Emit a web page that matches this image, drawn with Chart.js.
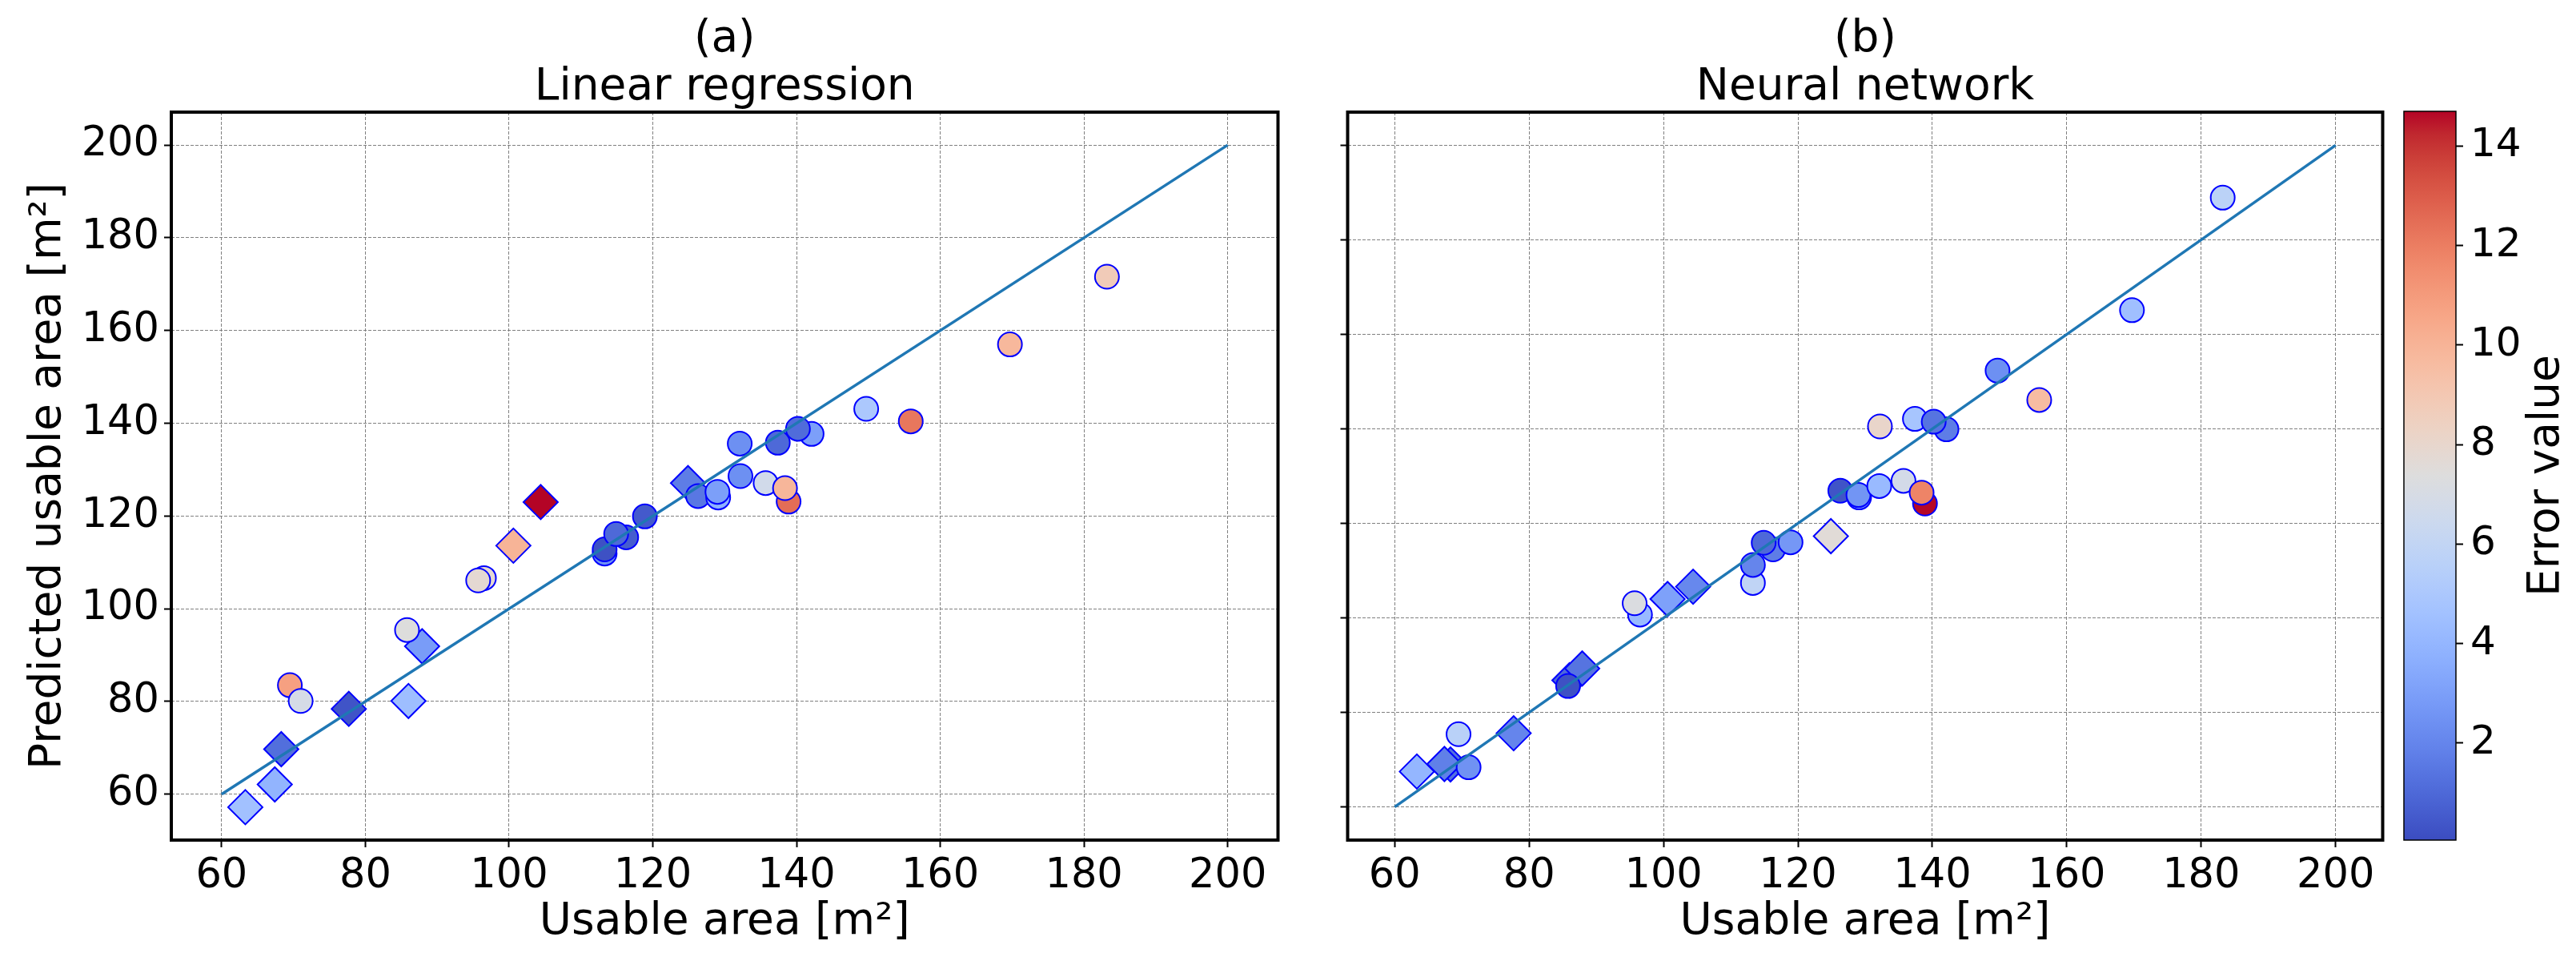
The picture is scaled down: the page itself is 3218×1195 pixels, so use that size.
<!DOCTYPE html>
<html>
<head>
<meta charset="utf-8">
<script src="https://cdn.jsdelivr.net/npm/chart.js@4.4.1/dist/chart.umd.min.js"></script>
<style>
html, body { margin: 0; padding: 0; background: #fff; }
body { width: 3218px; height: 1195px; position: relative; overflow: hidden; }
canvas { position: absolute; top: 0; }
</style>
</head>
<body>
<canvas id="chartLR" width="1620" height="1195" style="left:0px"></canvas>
<canvas id="chartNN" width="1340" height="1195" style="left:1660px"></canvas>
<canvas id="chartBar" width="223" height="1195" style="left:2995px"></canvas>
<script>
// real usable area of every flat [m2], diamonds first then circles
var usableArea = [63.3, 68.3, 67.4, 77.7, 86.0, 87.9, 100.6, 104.4, 124.9,
  69.5, 71.0, 85.8, 96.5, 95.7, 113.3, 113.3, 116.3, 114.9, 118.9, 126.3, 129.1, 129.0,
  132.1, 132.2, 135.7, 138.9, 138.4, 137.4, 142.1, 140.2, 149.7, 155.9, 169.7, 183.2];
var shape = ['D','D','D','D','D','D','D','D','D',
  'o','o','o','o','o','o','o','o','o','o','o','o','o',
  'o','o','o','o','o','o','o','o','o','o','o','o'];

// (a) linear regression
var lrPredicted = [57.2, 69.7, 62.1, 78.4, 80.1, 91.9, 113.6, 123.0, 127.1,
  83.5, 80.1, 95.4, 106.6, 106.1, 111.9, 112.8, 115.4, 116.1, 119.9, 124.3, 124.0, 125.2,
  135.6, 128.6, 127.1, 123.1, 126.0, 135.8, 137.7, 138.8, 143.1, 140.4, 157.0, 171.6];
var lrError = [4.6, 1.2, 3.9, 0.3, 4.4, 2.9, 10.0, 14.7, 1.7,
  10.8, 6.9, 7.4, 7.8, 7.8, 2.5, 0.2, 0.6, 1.0, 0.5, 1.5, 3.8, 3.0,
  2.4, 2.4, 6.7, 12.5, 9.9, 1.0, 3.0, 1.1, 5.0, 12.2, 9.8, 8.8];

// (b) neural network
var nnPredicted = [67.5, 69.0, 69.1, 75.6, 86.8, 89.3, 104.0, 106.6, 117.3,
  75.4, 68.4, 85.6, 100.7, 103.1, 107.4, 111.2, 114.5, 115.9, 116.0, 126.9, 125.5, 126.0,
  127.9, 140.5, 129.0, 124.2, 126.5, 142.1, 139.9, 141.5, 152.3, 146.1, 165.1, 188.9];
var nnError = [4.0, 1.3, 1.8, 2.0, 1.0, 1.4, 3.1, 2.1, 7.6,
  5.6, 2.5, 0.2, 4.2, 7.2, 5.9, 2.0, 1.7, 1.0, 2.7, 0.3, 3.0, 2.6,
  4.2, 8.1, 6.8, 14.65, 11.8, 4.8, 1.7, 1.4, 2.4, 9.6, 4.5, 5.7];

var axisTicks = [60, 80, 100, 120, 140, 160, 180, 200];
var errorTicks = [2, 4, 6, 8, 10, 12, 14];
var identityLine = [60, 200];
var xRange = [53, 207];
var yRangeLR = [50.1, 207.1];
var yRangeNN = [53, 207];
var errorRange = [0.05, 14.7];

// coolwarm colormap samples
var coolwarmStops = [
  [59,76,192],[68,90,204],[77,104,215],[87,117,225],[98,130,234],[108,142,241],
  [119,154,247],[130,165,251],[141,176,254],[152,185,255],[163,194,255],[174,201,253],
  [184,208,249],[194,213,244],[204,217,238],[213,219,230],[221,221,221],[229,216,209],
  [236,211,197],[241,204,185],[245,196,173],[247,187,160],[247,177,148],[247,166,135],
  [244,154,123],[241,141,111],[236,127,99],[229,112,88],[222,96,77],[213,80,66],
  [203,62,56],[192,40,47],[180,4,38]];

function coolwarm(v) {
  var t = (v - errorRange[0]) / (errorRange[1] - errorRange[0]);
  t = Math.max(0, Math.min(1, t)) * (coolwarmStops.length - 1);
  var i = Math.min(Math.floor(t), coolwarmStops.length - 2), f = t - i;
  var a = coolwarmStops[i], b = coolwarmStops[i + 1];
  return 'rgb(' + [0,1,2].map(function(k){ return Math.round(a[k] + (b[k] - a[k]) * f); }).join(',') + ')';
}

Chart.defaults.font.family = "'DejaVu Sans'";
Chart.defaults.font.size = 51;
Chart.defaults.color = '#000';

var labelFont = { size: 55, lineHeight: 1.2 };

var frame = {
  id: 'frame',
  afterDatasetsDraw: function(chart, args, opts) {
    var a = chart.chartArea, ctx = chart.ctx;
    ctx.save();
    ctx.lineWidth = opts.width;
    ctx.strokeStyle = '#000';
    ctx.strokeRect(a.left, a.top, a.right - a.left, a.bottom - a.top);
    ctx.restore();
  }
};

function subset(pred, err, s) {
  var pts = [], cols = [];
  for (var i = 0; i < usableArea.length; i++) {
    if (shape[i] !== s) continue;
    pts.push({x: usableArea[i], y: pred[i]});
    cols.push(coolwarm(err[i]));
  }
  return {pts: pts, cols: cols};
}

function makePanel(id, pred, err, title, yRange, yTitle, yWidth) {
  var dia = subset(pred, err, 'D');
  var circ = subset(pred, err, 'o');
  var gridOpts = { color: '#808080', lineWidth: 1, tickLength: 9, tickColor: '#000', tickWidth: 2 };
  return new Chart(document.getElementById(id), {
    type: 'scatter',
    data: {
      datasets: [
        { type: 'line', data: identityLine.map(function(v){ return {x: v, y: v}; }),
          borderColor: '#1f77b4', borderWidth: 3.5, pointRadius: 0, order: 0 },
        { data: circ.pts, backgroundColor: circ.cols, borderColor: '#0000ff', borderWidth: 2,
          pointStyle: 'circle', pointRadius: 15, pointHoverRadius: 15, order: 1 },
        { data: dia.pts, backgroundColor: dia.cols, borderColor: '#0000ff', borderWidth: 2,
          pointStyle: 'rectRot', pointRadius: 21.5, pointHoverRadius: 21.5, order: 2 }
      ]
    },
    options: {
      responsive: false, animation: false, events: [],
      layout: { padding: { left: 0, right: 11, top: 0, bottom: 0 } },
      plugins: {
        legend: { display: false }, tooltip: { enabled: false },
        title: { display: true, text: title, fullSize: false, color: '#000',
          font: { size: 55, weight: 'normal', lineHeight: 1.1 }, padding: { top: 19, bottom: 0 } },
        frame: { width: 4 }
      },
      scales: {
        x: {
          type: 'linear', min: xRange[0], max: xRange[1],
          afterBuildTicks: function(s){ s.ticks = axisTicks.map(function(v){ return {value: v}; }); },
          afterFit: function(s){ s.height = 146; },
          grid: gridOpts, border: { display: false, dash: [4, 2] },
          ticks: { padding: 6, maxRotation: 0, autoSkip: false },
          title: { display: true, text: 'Usable area [m²]', font: labelFont, padding: { top: 0, bottom: 10 } }
        },
        y: {
          type: 'linear', min: yRange[0], max: yRange[1],
          afterBuildTicks: function(s){ s.ticks = axisTicks.map(function(v){ return {value: v}; }); },
          afterFit: function(s){ s.width = yWidth; },
          grid: gridOpts, border: { display: false, dash: [4, 2] },
          ticks: { padding: 6, autoSkip: false, callback: function(v){ return yTitle ? String(v) : ''; } },
          title: { display: !!yTitle, text: yTitle || '', font: labelFont, padding: { top: 28, bottom: 0 } }
        }
      }
    },
    plugins: [frame]
  });
}

makePanel('chartLR', lrPredicted, lrError, ['(a)', 'Linear regression'], yRangeLR, 'Predicted usable area [m²]', 214);
makePanel('chartNN', nnPredicted, nnError, ['(b)', 'Neural network'], yRangeNN, null, 12);

// colour bar
var colorbarFill = {
  id: 'colorbarFill',
  beforeDatasetsDraw: function(chart) {
    var a = chart.chartArea, ctx = chart.ctx, y = chart.scales.y;
    var g = ctx.createLinearGradient(0, y.getPixelForValue(errorRange[0]), 0, y.getPixelForValue(errorRange[1]));
    coolwarmStops.forEach(function(c, i){
      g.addColorStop(i / (coolwarmStops.length - 1), 'rgb(' + c.join(',') + ')');
    });
    ctx.save();
    ctx.fillStyle = g;
    ctx.fillRect(a.left, a.top, a.right - a.left, a.bottom - a.top);
    ctx.restore();
  }
};
var errorLabel = {
  id: 'errorLabel',
  afterDraw: function(chart, args, opts) {
    var a = chart.chartArea, ctx = chart.ctx;
    ctx.save();
    ctx.translate(a.right + 114, (a.top + a.bottom) / 2);
    ctx.rotate(-Math.PI / 2);
    ctx.font = "55px 'DejaVu Sans'";
    ctx.fillStyle = '#000';
    ctx.textAlign = 'center';
    ctx.textBaseline = 'middle';
    ctx.fillText(opts.text, 0, 0);
    ctx.restore();
  }
};

new Chart(document.getElementById('chartBar'), {
  type: 'scatter',
  data: { datasets: [] },
  options: {
    responsive: false, animation: false, events: [],
    layout: { padding: { left: 8, right: 0, top: 139, bottom: 146 } },
    plugins: { legend: { display: false }, tooltip: { enabled: false },
      frame: { width: 1.5 }, errorLabel: { text: 'Error value' } },
    scales: {
      x: { display: false, min: 0, max: 1 },
      y: {
        position: 'right', min: errorRange[0], max: errorRange[1],
        afterBuildTicks: function(s){ s.ticks = errorTicks.map(function(v){ return {value: v}; }); },
        afterFit: function(s){ s.width = 150; },
        grid: { drawOnChartArea: false, tickLength: 9, tickColor: '#000', tickWidth: 2 },
        border: { display: false },
        ticks: { padding: 9, autoSkip: false, font: { size: 50 } }
      }
    }
  },
  plugins: [colorbarFill, frame, errorLabel]
});
</script>
</body>
</html>
